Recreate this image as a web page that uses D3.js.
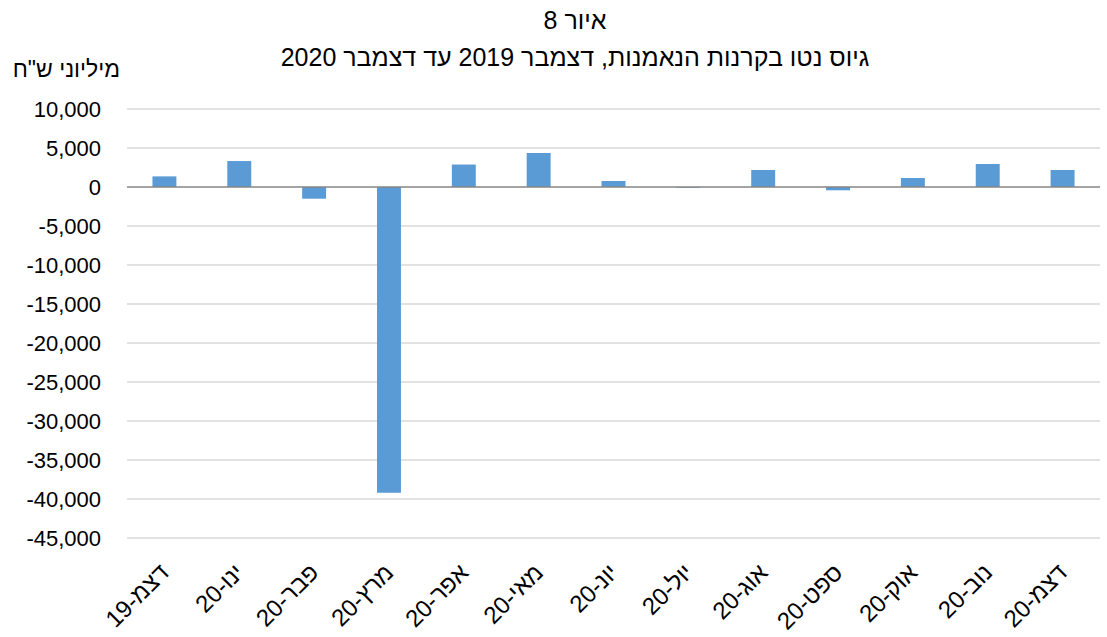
<!DOCTYPE html>
<html><head><meta charset="utf-8">
<script src="https://cdnjs.cloudflare.com/ajax/libs/d3/7.8.5/d3.min.js"></script>
<style>body{margin:0;background:#fff}svg{display:block}text{font-family:"Liberation Sans",Arial,sans-serif;fill:#000}</style>
</head><body><svg id="c" width="1107" height="637"></svg>
<script>
const categories = ["דצמ-19","ינו-20","פבר-20","מרץ-20","אפר-20","מאי-20","יונ-20","יול-20","אוג-20","ספט-20","אוק-20","נוב-20","דצמ-20"];
const values = [1360, 3330, -1500, -39200, 2880, 4360, 770, -100, 2180, -420, 1150, 2950, 2180];
const yTicks = [10000,5000,0,-5000,-10000,-15000,-20000,-25000,-30000,-35000,-40000,-45000];
const titleLines = ["איור 8","גיוס נטו בקרנות הנאמנות, דצמבר 2019 עד דצמבר 2020"];
const yUnit = "מיליוני ש\"ח";

const svg = d3.select("#c");
const x = d3.scaleBand().domain(categories).range([127,1100]).paddingInner(0.68).paddingOuter(0.34);
const y = d3.scaleLinear().domain([-45000,10000]).range([538,109]);
const fmt = d => d3.format(",")(d).replace("\u2212","-");

// gridlines
svg.append("g").selectAll("line").data(yTicks.filter(d=>d!==0)).join("line")
  .attr("x1",127).attr("x2",1100).attr("y1",d=>y(d)).attr("y2",d=>y(d))
  .attr("stroke","#d9d9d9").attr("stroke-width",1.3);

// bars
svg.append("g").selectAll("rect").data(values).join("rect")
  .attr("x",(d,i)=>x(categories[i])).attr("width",x.bandwidth())
  .attr("y",d=>y(Math.max(0,d))).attr("height",d=>Math.abs(y(d)-y(0)))
  .attr("fill","#5b9bd5");

// zero line
svg.append("line").attr("x1",127).attr("x2",1100).attr("y1",y(0)).attr("y2",y(0))
  .attr("stroke","#868686").attr("stroke-width",1.5);

// y axis labels
const ya = d3.axisLeft(y).tickValues(yTicks).tickFormat(fmt).tickSize(0).tickPadding(0);
const gy = svg.append("g").attr("transform","translate(101,0)").call(ya);
gy.select(".domain").remove();
gy.selectAll("text").style("font-size","22px").style("font-family","Liberation Sans, Arial, sans-serif").attr("fill","#000");

// x labels
const xa = d3.axisBottom(x).tickSize(0).tickPadding(0);
const gx = svg.append("g").attr("transform","translate(0,552)").call(xa);
gx.select(".domain").remove();
gx.selectAll("text").style("font-size","24px").style("font-family","Liberation Sans, Arial, sans-serif").attr("fill","#000")
  .attr("text-anchor","end").attr("dy","0")
  .attr("transform","translate(6,22) rotate(-45)");

// titles
svg.append("text").attr("x",575).attr("y",29).attr("text-anchor","middle").style("font-size","25px").text(titleLines[0]);
svg.append("text").attr("x",575).attr("y",66).attr("text-anchor","middle").style("font-size","25px").text(titleLines[1]);
svg.append("text").attr("x",120).attr("y",77).attr("text-anchor","end").style("font-size","23px").text(yUnit);
</script></body></html>
